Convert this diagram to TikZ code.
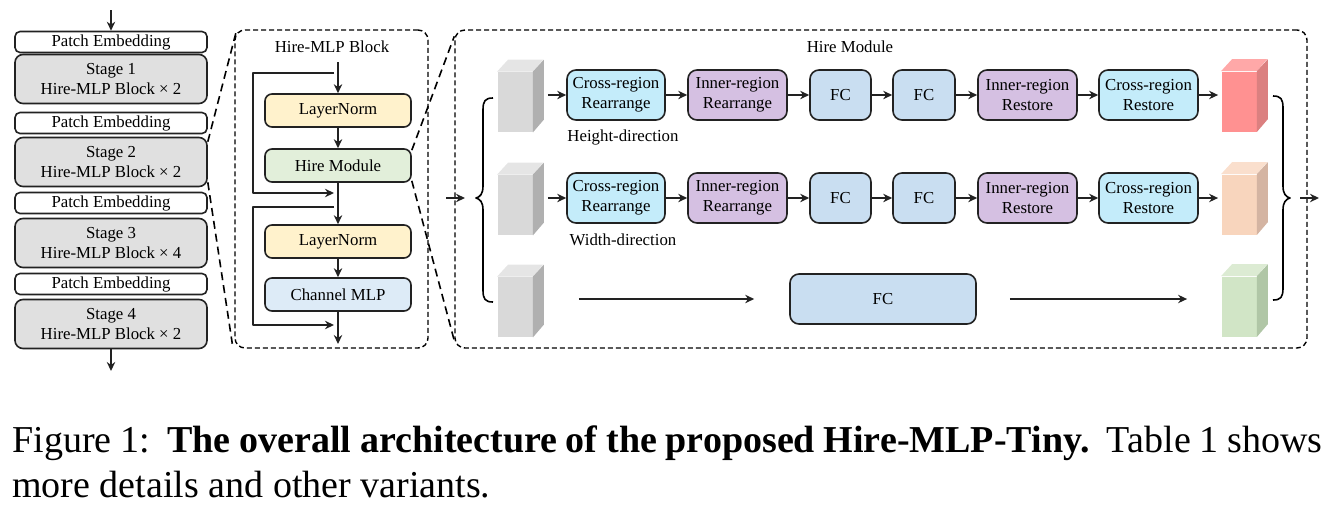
\documentclass[tikz,border=0pt]{standalone}
\usepackage{fontspec}
\newfontfamily\diafont{Liberation Serif}
\usetikzlibrary{arrows.meta,calc}

\definecolor{stagegray}{HTML}{E0E0E0}
\definecolor{lnyellow}{HTML}{FFF2CC}
\definecolor{hmgreen}{HTML}{E2EFDA}
\definecolor{mlpblue}{HTML}{DDEBF7}
\definecolor{crcyan}{HTML}{C4ECFA}
\definecolor{irpurple}{HTML}{D5C0E2}
\definecolor{fcblue}{HTML}{C9DEF1}
\definecolor{edgegray}{HTML}{222222}
\definecolor{redfront}{HTML}{FF9191}
\definecolor{redtop}{HTML}{FFA8A8}
\definecolor{redside}{HTML}{DB8080}
\definecolor{peachfront}{HTML}{F8D5BD}
\definecolor{peachtop}{HTML}{FADFCD}
\definecolor{peachside}{HTML}{D4B4A2}
\definecolor{greenfront}{HTML}{D1E5C6}
\definecolor{greentop}{HTML}{DCEBD3}
\definecolor{greenside}{HTML}{B0C6A6}

\tikzset{
  box/.style={draw=edgegray, line width=0.8pt, rounded corners=3.5pt, align=center,
    inner sep=1pt, font=\diafont\fontsize{8.4}{10}\selectfont},
  pebox/.style={box, minimum width=96pt, minimum height=10.5pt, rounded corners=2.5pt},
  stagebox/.style={box, fill=stagegray, minimum width=96pt, minimum height=24.5pt, rounded corners=4pt},
  blockbox/.style={box, minimum width=73pt, minimum height=16.5pt},
  rowbox/.style={box, minimum height=25pt, rounded corners=4.5pt},
  link/.style={-{Stealth[length=4.5pt,width=4.2pt]}, line width=0.8pt, draw=edgegray},
  zoomline/.style={dash pattern=on 4pt off 2.5pt, line width=0.8pt},
  frame/.style={draw, dash pattern=on 2.5pt off 1.5pt, line width=0.7pt, rounded corners=5pt, inner sep=0pt},
  tag/.style={font=\diafont\fontsize{8.4}{10}\selectfont, inner sep=0pt},
}

% feature cube: name, x, y, front, top, side
\newcommand{\datacube}[6]{%
  \node[fill=#4, minimum width=17.5pt, minimum height=30pt, inner sep=0pt] (#1) at (#2,#3) {};
  \fill[#5] (#1.north west) -- ++(11,-12) -- ++(35,0) -- (#1.north east) -- cycle;
  \fill[#6] (#1.north east) -- ++(11,-12) -- ++(0,60) -- (#1.south east) -- cycle;
}

\begin{document}
\begin{tikzpicture}[x=0.5pt, y=-0.5pt, line join=round]
  \useasboundingbox (0,0) rectangle (1335,509);

  % stages
  \node[pebox] (pe1) at (111,42) {Patch Embedding};
  \node[stagebox] (st1) at (111,79) {Stage 1\\Hire-MLP Block × 2};
  \node[pebox] (pe2) at (111,123) {Patch Embedding};
  \node[stagebox] (st2) at (111,162) {Stage 2\\Hire-MLP Block × 2};
  \node[pebox] (pe3) at (111,203) {Patch Embedding};
  \node[stagebox] (st3) at (111,243) {Stage 3\\Hire-MLP Block × 4};
  \node[pebox] (pe4) at (111,284) {Patch Embedding};
  \node[stagebox] (st4) at (111,324) {Stage 4\\Hire-MLP Block × 2};
  \coordinate (netin) at (111,10);
  \coordinate (netout) at (111,371);
  \draw[link] (netin) -- (pe1);
  \draw[link] (st4) -- (netout);

  % Hire-MLP block
  \node[frame, minimum width=96.5pt, minimum height=159pt] (blockframe) at (331.5,189) {};
  \node[tag] (blocktitle) at (332,47) {Hire-MLP Block};
  \node[blockbox, fill=lnyellow] (ln1) at (338,110.5) {LayerNorm};
  \node[blockbox, fill=hmgreen] (hm) at (338,165.5) {Hire Module};
  \node[blockbox, fill=lnyellow] (ln2) at (338,241.5) {LayerNorm};
  \node[blockbox, fill=mlpblue] (mlp) at (338,294.5) {Channel MLP};
  \coordinate (btop) at (338,62);
  \coordinate (bbot) at (338,344);
  \coordinate (s1a) at (334,73);
  \coordinate (s1b) at (334,193);
  \coordinate (s2a) at (334,207);
  \coordinate (s2b) at (334,325);
  \draw[link] (btop) -- (ln1);
  \draw[link] (ln1) -- (hm);
  \draw[link] (hm) -- (ln2);
  \draw[link] (ln2) -- (mlp);
  \draw[link] (mlp) -- (bbot);
  \draw[link] (s1a) -- ++(-81,0) |- (s1b);
  \draw[link] (s2a) -- ++(-81,0) |- (s2b);

  \draw[zoomline] ([yshift=-2.5pt]st2.north east) -- ([xshift=1pt,yshift=-1pt]blockframe.north west);
  \draw[zoomline] ([yshift=2.5pt]st2.south east) -- ([xshift=-1pt,yshift=2.5pt]blockframe.south west);

  % Hire module
  \node[frame, minimum width=426pt, minimum height=159pt] (hireframe) at (881,189) {};
  \node[tag] (hiretitle) at (850,47) {Hire Module};
  \draw[zoomline] ([yshift=-1pt]hm.north east) -- ([yshift=-3.5pt]hireframe.north west);
  \draw[zoomline] ([yshift=1pt]hm.south east) -- ([yshift=4pt]hireframe.south west);

  \datacube{g1}{515}{102}{black!15}{black!10}{black!31}
  \datacube{g2}{515}{205}{black!15}{black!10}{black!31}
  \datacube{g3}{515}{307}{black!15}{black!10}{black!31}
  \datacube{r1}{1239}{101.5}{redfront}{redtop}{redside}
  \datacube{r2}{1239}{204.5}{peachfront}{peachtop}{peachside}
  \datacube{r3}{1239}{306.5}{greenfront}{greentop}{greenside}

  \foreach \r/\y in {1/95,2/198}{
    \node[rowbox, fill=crcyan, minimum width=49pt] (cr\r) at (616,\y) {Cross-region\\Rearrange};
    \node[rowbox, fill=irpurple, minimum width=49.5pt] (ir\r) at (737.5,\y) {Inner-region\\Rearrange};
    \node[rowbox, fill=fcblue, minimum width=30.5pt] (fa\r) at (840.5,\y) {FC};
    \node[rowbox, fill=fcblue, minimum width=31pt] (fb\r) at (924,\y) {FC};
    \node[rowbox, fill=irpurple, minimum width=49.5pt] (irr\r) at (1027.5,\y) {Inner-region\\Restore};
    \node[rowbox, fill=crcyan, minimum width=49.5pt] (crr\r) at (1148.5,\y) {Cross-region\\Restore};
    \coordinate (gout\r) at ([xshift=7.5pt]g\r.east |- cr\r.west);
    \draw[link] (gout\r) -- (cr\r);
    \draw[link] (cr\r) -- (ir\r);
    \draw[link] (ir\r) -- (fa\r);
    \draw[link] (fa\r) -- (fb\r);
    \draw[link] (fb\r) -- (irr\r);
    \draw[link] (irr\r) -- (crr\r);
    \draw[link, shorten >=1.5pt] (crr\r) -- (r\r.west |- crr\r.east);
  }
  \node[tag] (hdir) at (623,137) {Height-direction};
  \node[tag] (wdir) at (623,240) {Width-direction};

  \node[rowbox, fill=fcblue, minimum width=93pt] (fc3) at (883,299) {FC};
  \draw[link, shorten <=23pt, shorten >=17.5pt] (g3.east |- fc3.west) -- (fc3.west);
  \draw[link, shorten <=16.5pt, shorten >=17pt] (fc3.east) -- (r3.west |- fc3.east);

  % braces
  \coordinate (lb) at (476,198);
  \coordinate (rb) at (1290,198);
  \draw[line width=0.8pt] (493,98) .. controls (485,98) and (483,101) .. (483,110) -- (483,186)
    .. controls (483,194) and (480,197) .. (lb) .. controls (480,199) and (483,202) .. (483,210)
    -- (483,290) .. controls (483,299) and (485,302) .. (493,302);
  \draw[line width=0.8pt] (1273,96) .. controls (1281,96) and (1283,99) .. (1283,108) -- (1283,186)
    .. controls (1283,194) and (1286,197) .. (rb) .. controls (1286,199) and (1283,202) .. (1283,210)
    -- (1283,288) .. controls (1283,297) and (1281,300) .. (1273,300);
  \coordinate (hin) at (446,198);
  \coordinate (hout) at (1319,198);
  \draw[link, shorten >=5.5pt] (hin) -- (lb);
  \draw[link, shorten <=5pt] (rb) -- (hout);

  % caption
  \node[anchor=base west, inner sep=0pt] (cap1) at (12,452)
    {\diafont\fontsize{19}{22}\selectfont\makebox[655pt][s]{Figure 1:\ \ \textbf{The overall architecture of the proposed Hire-MLP-Tiny.}\ \ Table 1 shows}};
  \node[anchor=base west, inner sep=0pt] (cap2) at (12,497)
    {\diafont\fontsize{19}{22}\selectfont more details and other variants.};
\end{tikzpicture}
\end{document}
